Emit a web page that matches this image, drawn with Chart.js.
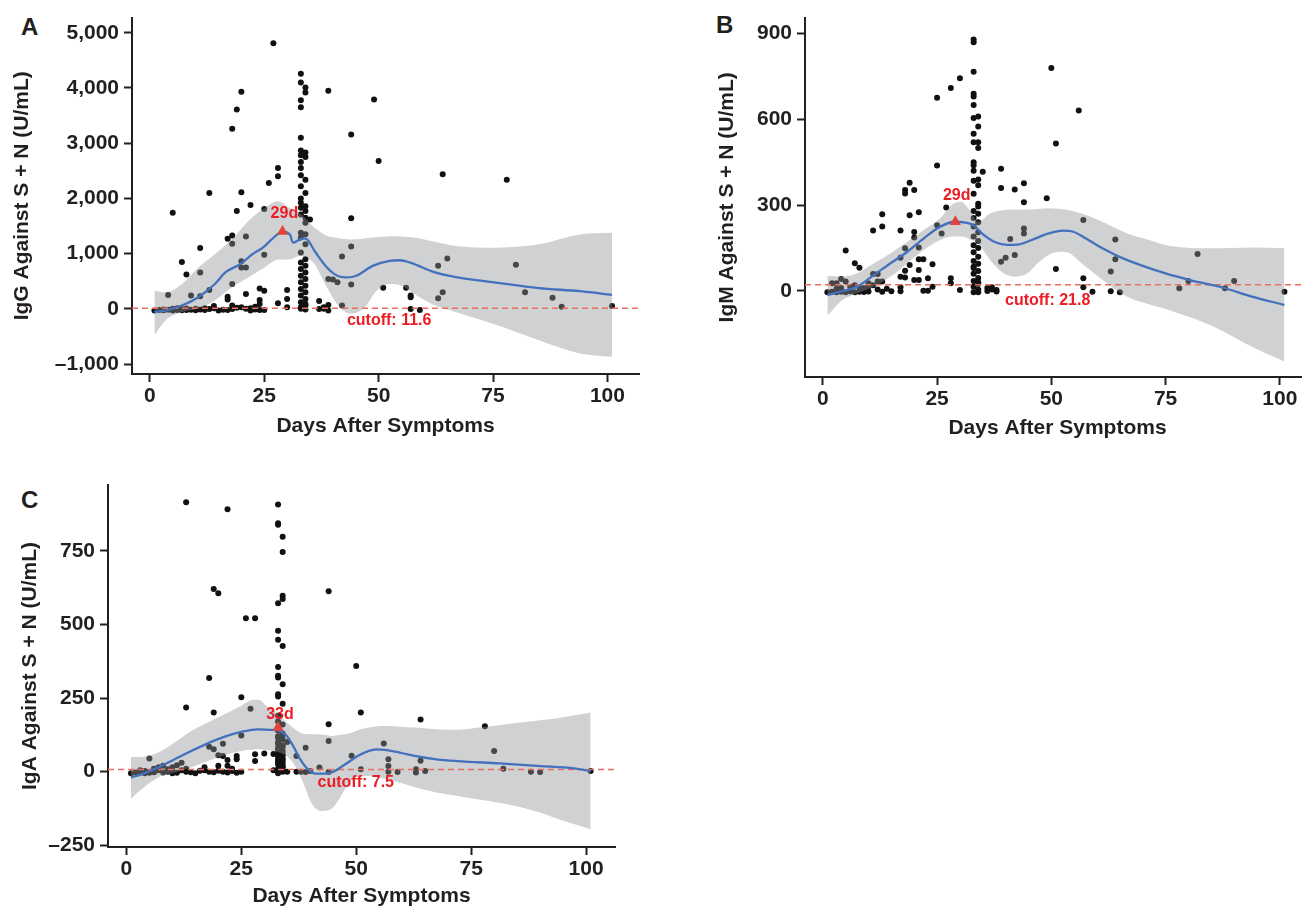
<!DOCTYPE html>
<html>
<head>
<meta charset="utf-8">
<title>Antibody levels vs days after symptoms</title>
<script src="https://cdn.jsdelivr.net/npm/chart.js@4.4.0/dist/chart.umd.min.js"></script>
<style>
  html, body { margin: 0; padding: 0; background: #fff; width: 1302px; height: 907px; overflow: hidden; }
  canvas { position: absolute; }
  .tag { position: absolute; font: bold 24px "Liberation Sans", Arial, sans-serif; line-height: 24px; color: #231f20; }
</style>
</head>
<body>
<div class="tag" style="left:21px;top:15px">A</div>
<div class="tag" style="left:716px;top:13px">B</div>
<div class="tag" style="left:21px;top:488px">C</div>
<canvas id="chartA" width="650" height="450" style="left:0;top:0"></canvas>
<canvas id="chartB" width="660" height="450" style="left:660px;top:0"></canvas>
<canvas id="chartC" width="650" height="460" style="left:0;top:460px"></canvas>
<script>
// ---- data ----
const dayTicks = [0, 25, 50, 75, 100];
const igGTicks = [-1000, 0, 1000, 2000, 3000, 4000, 5000];
const igMTicks = [0, 300, 600, 900];
const igATicks = [-250, 0, 250, 500, 750];

const cutoffs = { igG: 11.6, igM: 21.8, igA: 7.5 };
const peakDays = { igG: 29, igM: 29, igA: 33 };

// samples [day, U/mL]
const igGPoints = [
  [27,4810],[33,4260],[33,4100],[34,4010],[34,3920],[33,3780],[33,3650],[39,3950],[49,3790],[20,3930],[19,3610],[18,3260],[44,3160],[33,3100],
  [33,2870],[34,2830],[33,2780],[34,2750],[33,2660],[33,2550],[33,2420],[34,2340],[33,2220],[34,2100],[33,2000],[33,1920],[34,1860],[33,1830],
  [34,1770],[33,1710],[34,1650],[35,1620],[34,1560],[33,1380],[34,1350],[33,1290],[34,1170],[33,1020],[34,900],[33,840],[34,780],[33,720],
  [34,660],[33,600],[34,540],[33,480],[34,420],[33,360],[34,300],[33,240],[34,180],[33,120],[34,60],[33,0],[34,-10],[33,30],[34,90],
  [50,2680],[64,2440],[78,2340],[28,2550],[28,2400],[26,2280],[13,2100],[20,2110],[22,1880],[25,1810],[19,1770],[5,1740],[44,1640],
  [17,1270],[18,1330],[18,1180],[21,1310],[11,1100],[44,1130],[42,950],[65,910],[63,780],[80,800],[7,850],[20,860],[21,750],[20,750],
  [25,980],[8,620],[11,660],[39,540],[40,530],[41,480],[44,440],[51,380],[56,380],[57,240],[57,210],[64,300],[63,190],[82,300],[88,200],
  [90,40],[101,50],[30,340],[30,180],[30,30],[28,100],[24,370],[25,330],[24,160],[24,90],[21,270],[18,450],[17,220],[17,170],[13,340],
  [11,230],[9,240],[4,250],[37,140],[38,30],[39,70],[37,-5],[42,60],[57,-5],[59,-20],[39,-30],[38,0],
  [1,-30],[2,-20],[3,-25],[3,-10],[4,-15],[5,-30],[5,0],[6,-20],[6,10],[7,-25],[7,-5],[8,-20],[8,5],[9,-15],[10,-25],[10,0],[11,-10],
  [12,-20],[12,10],[13,-5],[14,10],[15,-30],[17,-20],[18,-5],[19,20],[21,0],[22,-30],[23,-10],[24,-20],[25,-20],[22,10],[23,40],[20,30],
  [18,60],[16,-15],[14,50]
];
const igMPoints = [
  [33,879],[33,870],[33,767],[30,744],[28,710],[25,676],[50,780],[56,631],[51,516],[25,439],[35,417],[39,427],
  [33,690],[33,680],[33,650],[34,610],[33,605],[34,575],[33,550],[34,520],[33,520],[34,500],[33,450],[33,440],[33,420],[34,390],[33,385],
  [34,370],[33,340],[34,305],[34,295],[33,280],[34,270],[33,255],[34,240],[33,225],[34,205],[33,190],[34,175],[33,160],[34,150],[33,135],
  [34,120],[33,105],[34,95],[33,85],[34,70],[33,60],[34,45],[33,35],[34,25],[33,15],[34,5],[33,-5],[34,-5],[33,80],[34,30],
  [19,378],[18,353],[18,341],[20,353],[39,360],[42,355],[44,377],[49,324],[44,310],[57,248],[27,292],[13,268],[21,275],[19,265],[13,225],
  [11,211],[17,211],[20,206],[20,187],[25,230],[26,201],[44,218],[44,201],[41,182],[64,180],[5,141],[21,152],[18,149],[17,116],[21,111],
  [22,111],[42,126],[40,116],[39,102],[82,129],[64,111],[7,97],[8,81],[24,93],[51,77],[21,73],[19,91],[18,71],[17,50],[18,47],[63,68],
  [11,59],[12,59],[57,44],[80,35],[90,35],[20,38],[21,38],[23,44],[28,44],[28,27],[4,42],[5,33],[3,27],[2,27],[13,33],[12,33],[10,27],
  [57,13],[59,-3],[63,-1],[65,-5],[78,9],[88,9],[101,-3],[37,13],[38,3],[30,3],[24,15],[22,1],[23,1],[17,-1],[17,13],[14,8],[15,-1],
  [1,-5],[2,-3],[3,-5],[4,-3],[5,-5],[6,-2],[7,-5],[8,-3],[9,-4],[10,-2],[6,15],[7,20],[9,10],[10,15],[11,20],[12,5],[13,-3],[8,12],
  [4,10],[3,8],[36,0],[38,-2],[37,5],[36,10]
];
const igAPoints = [
  [13,915],[22,892],[33,908],[33,844],[33,839],[34,798],[34,746],[19,621],[20,606],[44,613],[34,598],[34,587],[33,572],[26,521],[28,521],
  [33,479],[33,448],[34,427],[50,359],[33,356],[33,326],[33,320],[34,297],[18,318],[25,253],[33,263],[33,255],[34,231],[13,218],[27,214],
  [19,201],[51,201],[33,190],[64,177],[78,154],[44,161],[44,104],[25,123],[21,95],[56,96],[39,81],[18,85],[19,76],[35,101],[80,70],
  [28,59],[28,36],[30,62],[49,54],[20,56],[21,53],[22,40],[24,53],[24,42],[37,53],[5,45],[64,37],[57,42],[57,19],[57,0],[42,14],[51,8],
  [82,10],[63,8],[63,-3],[65,2],[59,-1],[88,0],[90,-1],[101,2],[40,2],[39,-1],[38,0],[44,-1],[37,0],
  [33,170],[34,160],[33,150],[33,140],[34,130],[33,120],[34,110],[33,100],[34,90],[33,80],[34,70],[33,65],[34,60],[33,50],[34,45],
  [33,40],[34,30],[33,25],[34,20],[33,10],[34,5],[33,0],[34,0],[35,0],[32,5],[32,60],[33,-5],
  [33,115],[34,125],[33,95],[34,85],[33,75],[34,55],[33,35],[34,15],[33,30],[34,40],
  [1,-5],[2,-3],[3,0],[4,2],[5,-4],[6,-2],[7,5],[8,-3],[9,0],[10,2],[11,-4],[12,5],[6,10],[7,15],[8,20],[9,8],[10,15],[11,22],[12,30],
  [13,10],[14,-2],[15,-5],[17,15],[17,5],[18,0],[19,-2],[20,20],[20,3],[21,0],[22,-3],[23,2],[24,-4],[25,0],[22,20],[23,10],[16,3],
  [13,0],[10,-5],[3,5],[4,-5],[5,0],[6,0]
];

// loess fit [day, U/mL]
const igGFit = [[1,-60],[3.4,-30],[7,60],[10.6,210],[14.2,450],[16.5,660],[19.7,808],[22.4,988],[24.7,1108],[27,1287],[29,1400],[30.6,1347],
  [31.3,1198],[32.4,1240],[33.8,1275],[34.7,1228],[36,1048],[38.7,749],[41,599],[43.3,569],[45.1,599],[48.7,778],[52.4,868],[54.6,880],
  [56.9,838],[62.3,659],[66.9,575],[76,470],[85,375],[94,320],[101,255]];
const igMFit = [[1,-14],[3.9,-2],[7.5,15],[11.2,56],[14.8,97],[18.5,137],[22.1,184],[25.7,225],[28.9,242],[31.2,239],[33,230],[34.8,201],
  [37.5,172],[40.3,161],[43,163],[45.7,178],[49.4,201],[52.5,211],[54.8,207],[57.5,184],[61.2,149],[64.8,120],[69.4,91],[74.8,62],
  [80.3,38],[87.5,12],[93.9,-20],[101,-49]];
const igAFit = [[1,-20],[3.3,-9],[6.9,14],[10.5,42],[14.1,70],[17.7,96],[21.4,119],[25,135],[28.6,144],[31.3,142],[33,140],[34.9,121],
  [36.3,87],[37.6,48],[39.5,8],[41.3,-7],[43.1,-7],[44.9,-1],[47.6,25],[50.3,53],[52.6,70],[54.4,76],[56.7,73],[59.4,65],[63,53],
  [67.5,42],[72,36],[81.1,28],[90.1,19],[97.4,11],[101,2]];

// confidence band
const igGBandDays = [1,3.5,7,10.5,14,18,21.5,25,28,30.5,33,36,38.5,41.5,44,47,49.5,52.5,55,58,62,67,76,85,94,101];
const igGBandHi = [330,300,450,740,975,1265,1587,1820,1950,1830,1720,1467,1330,1280,1257,1275,1295,1317,1310,1287,1220,1138,1108,1168,1347,1377];
const igGBandLo = [-479,-200,-60,0,140,395,569,745,895,895,960,808,420,30,-85,30,325,449,420,260,75,-62,-299,-569,-808,-868];

const igMBandDays = [1,4,7.5,11,15,18.5,22,25.7,28.5,30.3,32,34,36.6,39.4,42,44.8,47,49.4,52,54,56.6,60.3,66.6,71,76,85,94,101];
const igMBandHi = [52,50,62,95,134,172,212,254,304,312,285,242,271,282,285,285,287,289,287,282,271,248,201,180,157,149,152,149];
const igMBandLo = [-87,-35,-8,14,52,97,142,178,190,190,182,165,108,64,50,62,97,126,137,132,97,50,-20,-45,-68,-121,-196,-247];

const igABandDays = [1,3.3,6.9,10.5,14.1,17.7,21.4,25,27.7,28.8,30.4,32.7,34.9,36.7,38.6,40.4,42.6,44.9,46.7,48.5,51.2,53.9,56.7,59.4,63,
  67.5,72,76.6,81.1,85.6,90.1,94.7,101];
const igABandHi = [50,50,65,99,138,167,195,224,244,244,224,201,167,144,128,127,126,121,125,130,145,153,155,153,150,144,142,150,158,167,175,184,201];
const igABandLo = [-92,-60,-20,-3,14,36,56,70,75,76,74,68,53,19,-43,-111,-134,-123,-83,-37,-15,-17,-26,-37,-54,-71,-83,-95,-106,-120,-140,-165,-196];

// ---- drawing ----
const FONT = '"Liberation Sans", Arial, Helvetica, sans-serif';
const INK = '#231f20';
Chart.defaults.font.family = FONT;

function fmt(v) {
  const s = Math.abs(v).toLocaleString('en-US');
  return v < 0 ? '\u2013' + s : s;
}

// red text notes placed at data coords
const notesPlugin = {
  id: 'notes',
  afterDatasetsDraw(chart, args, opts) {
    const { ctx, scales: { x, y } } = chart;
    ctx.save();
    ctx.font = 'bold 16px ' + FONT;
    ctx.fillStyle = '#ec1c24';
    ctx.textAlign = 'center';
    ctx.textBaseline = 'middle';
    (opts.items || []).forEach(it => {
      ctx.fillText(it.text, x.getPixelForValue(it.x), y.getPixelForValue(it.y));
    });
    ctx.restore();
  }
};

const toXY = arr => arr.map(d => ({ x: d[0], y: d[1] }));
const zipXY = (xs, ys) => xs.map((v, i) => ({ x: v, y: ys[i] }));

function panel(id, p) {
  const tickFont = { family: FONT, size: 21, weight: 'bold' };
  return new Chart(document.getElementById(id), {
    type: 'scatter',
    data: {
      datasets: [
        { label: 'peak', data: [{ x: p.peakDay, y: p.peakVal }], pointStyle: 'triangle', pointRadius: 6.5,
          backgroundColor: '#e0443a', borderWidth: 0, order: 0 },
        { label: 'loess', type: 'line', data: toXY(p.fit), borderColor: '#4471bd', borderWidth: 2.3, pointRadius: 0,
          cubicInterpolationMode: 'monotone', fill: false, order: 1 },
        { label: 'cutoff', type: 'line', data: [{ x: p.xMin, y: p.cutoff }, { x: p.xMax, y: p.cutoff }],
          borderColor: '#e8705f', borderWidth: 1.6, borderDash: [6, 4], pointRadius: 0, fill: false, order: 2 },
        { label: 'ci hi', type: 'line', data: zipXY(p.bandDays, p.bandHi), borderColor: 'transparent', pointRadius: 0,
          cubicInterpolationMode: 'monotone', fill: '+1', backgroundColor: 'rgba(140,145,150,0.42)', order: 3 },
        { label: 'ci lo', type: 'line', data: zipXY(p.bandDays, p.bandLo), borderColor: 'transparent', pointRadius: 0,
          cubicInterpolationMode: 'monotone', fill: false, order: 4 },
        { label: 'samples', data: toXY(p.points), pointRadius: 3, backgroundColor: '#111', borderWidth: 0, order: 5 }
      ]
    },
    options: {
      responsive: false,
      animation: false,
      layout: { padding: p.pad },
      plugins: { legend: { display: false }, tooltip: { enabled: false }, notes: { items: p.notes } },
      scales: {
        x: {
          type: 'linear', min: p.xMin, max: p.xMax,
          afterBuildTicks: s => { s.ticks = dayTicks.map(v => ({ value: v })); },
          afterFit: s => { s.height = p.xH; },
          grid: { drawOnChartArea: false, drawTicks: true, tickLength: 8, tickWidth: 2, tickColor: INK },
          border: { display: true, color: INK, width: 2 },
          ticks: { color: INK, font: tickFont, padding: 2, callback: v => fmt(v) },
          title: { display: true, text: 'Days After Symptoms', color: INK, font: tickFont,
                   padding: { top: 0, bottom: p.xTitlePad } }
        },
        y: {
          type: 'linear', min: p.yMin, max: p.yMax,
          afterBuildTicks: s => { s.ticks = p.yTicks.map(v => ({ value: v })); },
          afterFit: s => { s.width = p.yW; },
          grid: { drawOnChartArea: false, drawTicks: true, tickLength: 8, tickWidth: 2, tickColor: INK },
          border: { display: true, color: INK, width: 2 },
          ticks: { color: INK, font: tickFont, padding: 5, callback: v => fmt(v) },
          title: { display: true, text: p.yTitle, color: INK, font: tickFont,
                   padding: { top: p.yTitlePad, bottom: 0 } }
        }
      }
    },
    plugins: [notesPlugin]
  });
}

panel('chartA', {
  points: igGPoints, fit: igGFit, bandDays: igGBandDays, bandHi: igGBandHi, bandLo: igGBandLo,
  cutoff: cutoffs.igG, peakDay: peakDays.igG, peakVal: 1400,
  notes: [{ text: '29d', x: 29.4, y: 1724 }, { text: 'cutoff: 11.6', x: 52.3, y: -210 }],
  xMin: -3.9, xMax: 106.9, yMin: -1180, yMax: 5275, yTicks: igGTicks,
  yTitle: 'IgG Against S + N (U/mL)',
  pad: { left: 0, top: 15, right: 11, bottom: 0 }, yW: 132, xH: 76, xTitlePad: 11, yTitlePad: 10
});

// right part of panel B runs off the page edge, like the source
panel('chartB', {
  points: igMPoints, fit: igMFit, bandDays: igMBandDays, bandHi: igMBandHi, bandLo: igMBandLo,
  cutoff: cutoffs.igM, peakDay: peakDays.igM, peakVal: 242,
  notes: [{ text: '29d', x: 29.3, y: 332 }, { text: 'cutoff: 21.8', x: 49.2, y: -34 }],
  xMin: -3.9, xMax: 106.6, yMin: -301, yMax: 956, yTicks: igMTicks,
  yTitle: 'IgM Against S + N (U/mL)',
  pad: { left: 0, top: 17, right: 10, bottom: 0 }, yW: 145, xH: 73, xTitlePad: 9, yTitlePad: 55
});

panel('chartC', {
  points: igAPoints, fit: igAFit, bandDays: igABandDays, bandHi: igABandHi, bandLo: igABandLo,
  cutoff: cutoffs.igA, peakDay: peakDays.igA, peakVal: 150,
  notes: [{ text: '33d', x: 33.4, y: 195 }, { text: 'cutoff: 7.5', x: 49.9, y: -37 }],
  xMin: -4, xMax: 106.3, yMin: -256, yMax: 974, yTicks: igATicks,
  yTitle: 'IgA Against S + N (U/mL)',
  pad: { left: 0, top: 25, right: 35, bottom: 0 }, yW: 108, xH: 73, xTitlePad: 11, yTitlePad: 18
});
</script>
</body>
</html>
